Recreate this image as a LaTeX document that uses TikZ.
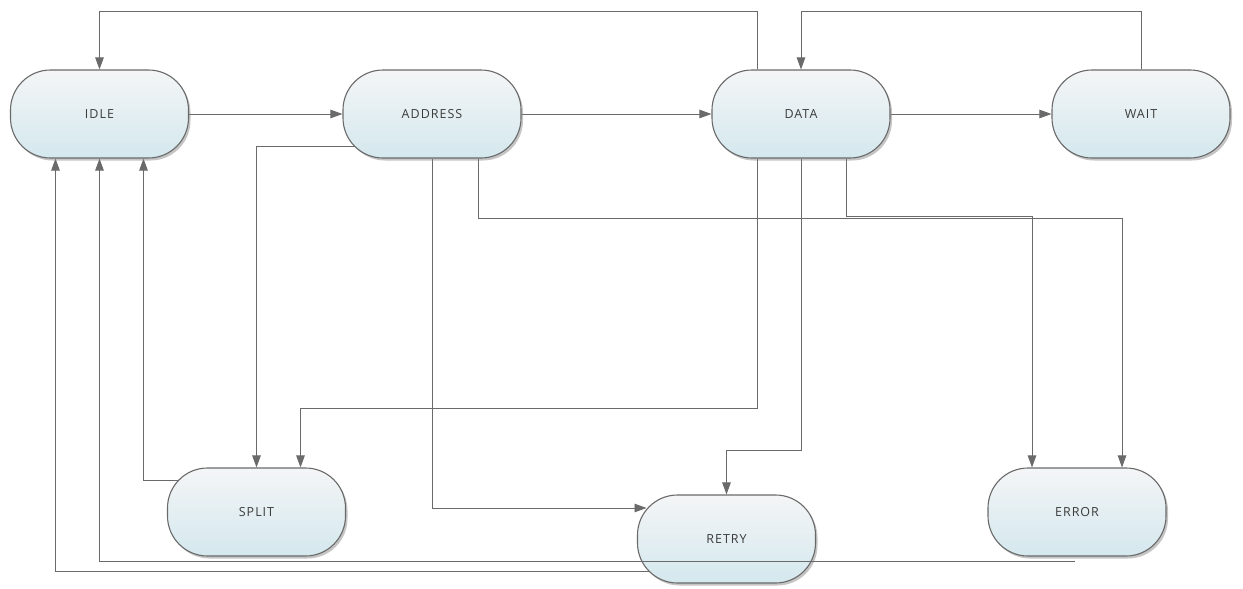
\documentclass[tikz,border=0pt]{standalone}
\usepackage{fontspec}
\setmainfont{Open Sans}
\usetikzlibrary{arrows.meta,shadows,calc}
\pgfdeclarelayer{bg}
\pgfsetlayers{bg,main}
\definecolor{edgegray}{HTML}{6A6A6A}
\definecolor{bordergray}{HTML}{6A6A6A}
\definecolor{topfill}{HTML}{F4F5F6}
\definecolor{midfill}{HTML}{E4E8EB}
\definecolor{botfill}{HTML}{D4E8EE}
\definecolor{txtgray}{HTML}{3C3C3C}
\tikzset{
  state/.style={rectangle, rounded corners=40pt, minimum width=178pt, minimum height=88pt,
    draw=bordergray, line width=1.1pt, top color=topfill, middle color=midfill, bottom color=botfill,
    drop shadow={shadow xshift=2pt, shadow yshift=-2.5pt, opacity=0.45, fill=gray},
    font=\fontsize{12.5}{14}\selectfont\addfontfeatures{LetterSpace=8}, text=txtgray, inner sep=0pt},
  conn/.style={draw=edgegray, line width=0.9pt},
  arr/.style={conn, -{Triangle[length=12pt,width=8.5pt]}, color=edgegray}
}
\begin{document}
\begin{tikzpicture}[x=1pt,y=-1pt]
\begin{pgfonlayer}{bg}
\fill[white] (0,0) rectangle (1243,589);
\end{pgfonlayer}
\useasboundingbox (0,0) rectangle (1243,589);
\node[state] (idle) at (99.5,114) {IDLE};
\node[state] (addr) at (432,114) {ADDRESS};
\node[state] (data) at (801,114) {DATA};
\node[state] (wait) at (1141,114) {WAIT};
\node[state] (split) at (256.5,512) {SPLIT};
\node[state] (retry) at (726.5,539) {RETRY};
\node[state] (error) at (1077,512) {ERROR};
\begin{pgfonlayer}{bg}
\draw[arr] (idle.east) -- (addr.west);
\draw[arr] (addr.east) -- (data.west);
\draw[arr] (data.east) -- (wait.west);
\draw[arr] ([xshift=-44pt]data.north) -- ++(0,-58) -| (idle.north);
\draw[arr] (wait.north) -- ++(0,-58) -| (data.north);
\draw[arr] ($(addr.center)+(-60,32)$) -| (split.north);
\draw[arr] ([xshift=-44pt]data.south) -- ++(0,250) -| ([xshift=44pt]split.north);
\draw[arr] ($(split.center)+(-60,-32)$) -| ([xshift=44pt]idle.south);
\draw[arr] (addr.south) |- ($(retry.center)+(-80,-31)$);
\draw[arr] (data.south) -- ++(0,292) -| (retry.north);
\draw[arr] ([xshift=46pt]addr.south) -- ++(0,60) -| ([xshift=45pt]error.north);
\draw[arr] ([xshift=45pt]data.south) -- ++(0,58) -| ([xshift=-45pt]error.north);
\draw[arr] ($(retry.center)+(-60,32)$) -| ([xshift=-44pt]idle.south);
\end{pgfonlayer}
\draw[arr] ($(error.south)+(-2,5)$) -| (idle.south);
\end{tikzpicture}
\end{document}
